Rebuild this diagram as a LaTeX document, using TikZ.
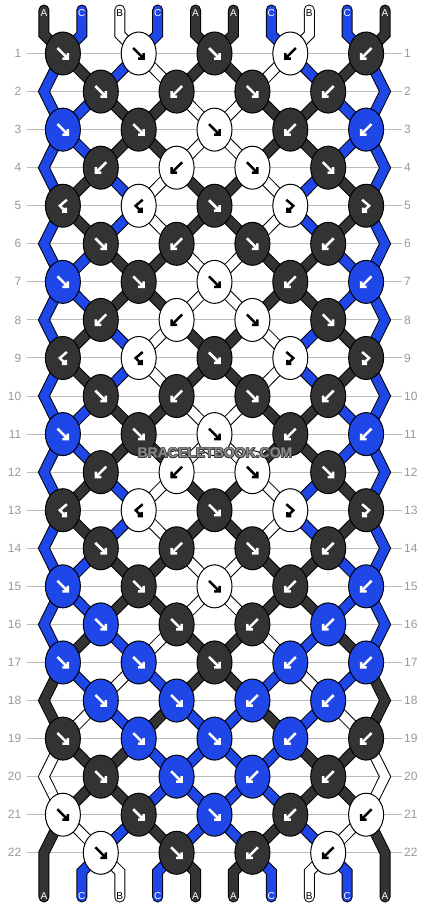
\documentclass[tikz,border=0pt]{standalone}
\usepackage{fontspec}
\setmainfont{Liberation Sans}
\usetikzlibrary{shapes.geometric}
\definecolor{colA}{HTML}{333333}
\definecolor{colB}{HTML}{FFFFFF}
\definecolor{colC}{HTML}{1F46E6}
\colorlet{txtA}{white}\colorlet{txtB}{black}\colorlet{txtC}{white}
\colorlet{arrA}{white}\colorlet{arrB}{black}\colorlet{arrC}{white}
\definecolor{rowgray}{HTML}{999999}
\definecolor{linegray}{HTML}{BBBBBB}
\definecolor{wmfill}{HTML}{8A8A8A}
\definecolor{wmedge}{HTML}{3A3A3A}
\pgfdeclarelayer{bg}\pgfdeclarelayer{sout}\pgfdeclarelayer{sin}
\pgfsetlayers{bg,sout,sin,main}
\newcommand\drawstrand[2]{%
  \begin{pgfonlayer}{sout}\draw[strandout] #2;\end{pgfonlayer}%
  \begin{pgfonlayer}{sin}\draw[strandin,draw=col#1] #2;\end{pgfonlayer}}
\newcommand\wmword{BRACELETBOOK.COM}
\newcommand\wmcopy[2]{\rlap{\hspace*{#1}\raisebox{#2}{\color{wmedge}\wmword}}}
\newcommand\wmark{\leavevmode\wmcopy{-0.7pt}{0pt}\wmcopy{0.7pt}{0pt}\wmcopy{0pt}{0.7pt}\wmcopy{0pt}{-0.7pt}\wmcopy{-0.5pt}{-0.5pt}\wmcopy{0.5pt}{0.5pt}\wmcopy{-0.5pt}{0.5pt}\wmcopy{0.5pt}{-0.5pt}{\color{wmfill}\wmword}}
\tikzset{
  knot/.style={ellipse,draw=black,line width=1pt,minimum width=35pt,minimum height=43pt,inner sep=0pt},
  strandout/.style={draw=black,line width=11pt,line join=miter,line cap=round},
  strandin/.style={line width=9pt,line join=miter,line cap=round},
  rownum/.style={text=rowgray,font=\fontsize{12}{14}\selectfont,inner sep=0pt},
  endlab/.style={font=\fontsize{10}{12}\selectfont,inner sep=0pt},
  arrw/.style={line width=2.5pt,line join=miter,line cap=butt},
  pics/af/.style={code={\draw[arrw,#1] (-5.5,-5.5) -- (5,5) (5,-0.5) -- (5,5) -- (-0.5,5);}},
  pics/ab/.style={code={\draw[arrw,#1] (5.5,-5.5) -- (-5,5) (-5,-0.5) -- (-5,5) -- (0.5,5);}},
  pics/afb/.style={code={\draw[arrw,#1] (-4,-6) -- (3,0) -- (-3,6) (-3,2) -- (-3,6) -- (1,6);}},
  pics/abf/.style={code={\draw[arrw,#1] (4,-6) -- (-3,0) -- (3,6) (3,2) -- (3,6) -- (-1,6);}},
}
\begin{document}
\begin{tikzpicture}[x=1pt,y=-1pt]
\useasboundingbox (0,0) rectangle (430,908);
% row numbers and guide lines
\foreach \rw in {1,...,22} {
  \pgfmathsetmacro\yy{53.5+(\rw-1)*38.06}
  \node[rownum,anchor=east] (rl\rw) at (21.5,\yy) {\rw};
  \node[rownum,anchor=west] (rr\rw) at (404,\yy) {\rw};
  \begin{pgfonlayer}{bg}\draw[linegray,line width=1pt] ([xshift=5.5pt]rl\rw.east) -- ([xshift=-2pt]rr\rw.west);\end{pgfonlayer}
}
% knots
\foreach \rw/\kl in {
 1/{f/A,f/B,f/A,b/B,b/A},
 2/{f/A,b/A,f/A,b/A},
 3/{f/C,f/A,f/B,b/A,b/C},
 4/{b/A,b/B,f/B,f/A},
 5/{bf/A,bf/B,f/A,fb/B,fb/A},
 6/{f/A,b/A,f/A,b/A},
 7/{f/C,f/A,f/B,b/A,b/C},
 8/{b/A,b/B,f/B,f/A},
 9/{bf/A,bf/B,f/A,fb/B,fb/A},
 10/{f/A,b/A,f/A,b/A},
 11/{f/C,f/A,f/B,b/A,b/C},
 12/{b/A,b/B,f/B,f/A},
 13/{bf/A,bf/B,f/A,fb/B,fb/A},
 14/{f/A,b/A,f/A,b/A},
 15/{f/C,f/A,f/B,b/A,b/C},
 16/{f/C,f/A,b/A,b/C},
 17/{f/C,f/C,f/A,b/C,b/C},
 18/{f/C,f/C,b/C,b/C},
 19/{f/A,f/C,f/C,b/C,b/A},
 20/{f/A,f/C,b/C,b/A},
 21/{f/B,f/A,f/C,b/A,b/B},
 22/{f/B,f/A,b/A,b/B}} {
  \pgfmathsetmacro\yy{53.5+(\rw-1)*38.06}
  \foreach \ty/\col [count=\kk] in \kl {
    \ifodd\rw\relax\pgfmathsetmacro\xx{214.5+(2*\kk-6)*37.9}\else\pgfmathsetmacro\xx{214.5+(2*\kk-5)*37.9}\fi
    \node[knot,fill=col\col] (k\rw-\kk) at (\xx,\yy) {};
    \edef\dopic{\noexpand\pic at (k\rw-\kk.center) {a\ty=arr\col};}\dopic
  }
}
% edge turning points
\foreach \rw in {2,4,...,22} {
  \pgfmathsetmacro\yy{53.5+(\rw-1)*38.06}
  \coordinate (eL\rw) at (43.95,\yy);
  \coordinate (eR\rw) at (385.05,\yy);
}
% top and bottom string ends
\foreach \p in {1,...,10} {
  \pgfmathsetmacro\xx{214.5+(\p-5.5)*37.9}
  \coordinate (t\p) at (\xx,10);
  \coordinate (tb\p) at (\xx,34.5);
  \coordinate (bb\p) at (\xx,871.8);
  \coordinate (b\p) at (\xx,897);
}
\foreach \col [count=\p] in {A,C,B,C,A,A,C,B,C,A} {
  \pgfmathtruncatemacro\io{(\p+1)/2}
  \drawstrand{\col}{(t\p) -- (tb\p) -- (k1-\io.center)}
  \node[endlab,text=txt\col] (lt\p) at ([yshift=-3pt]t\p) {\col};
  \node[endlab,text=txt\col] (lb\p) at ([yshift=1pt]b\p) {\col};
}
% strands between rows
\foreach \rw/\sl in {
 1/{C,A,C,B,A,A,B,C,A,C},
 2/{C,C,A,A,B,B,A,A,C,C},
 3/{C,C,A,A,B,B,A,A,C,C},
 4/{C,A,C,B,A,A,B,C,A,C},
 5/{C,A,C,B,A,A,B,C,A,C},
 6/{C,C,A,A,B,B,A,A,C,C},
 7/{C,C,A,A,B,B,A,A,C,C},
 8/{C,A,C,B,A,A,B,C,A,C},
 9/{C,A,C,B,A,A,B,C,A,C},
 10/{C,C,A,A,B,B,A,A,C,C},
 11/{C,C,A,A,B,B,A,A,C,C},
 12/{C,A,C,B,A,A,B,C,A,C},
 13/{C,A,C,B,A,A,B,C,A,C},
 14/{C,C,A,A,B,B,A,A,C,C},
 15/{C,C,A,A,B,B,A,A,C,C},
 16/{C,A,C,B,A,A,B,C,A,C},
 17/{A,C,B,C,A,A,C,B,C,A},
 18/{A,B,C,A,C,C,A,C,B,A},
 19/{B,A,A,C,C,C,C,A,A,B},
 20/{B,A,A,C,C,C,C,A,A,B},
 21/{A,B,C,A,C,C,A,C,B,A},
 22/{A,C,B,C,A,A,C,B,C,A}} {
  \pgfmathtruncatemacro\rn{\rw+1}
  \pgfmathtruncatemacro\rp{\rw-1}
  \foreach \col [count=\p] in \sl {
    \pgfmathtruncatemacro\io{(\p+1)/2}
    \pgfmathtruncatemacro\ie{\p/2}
    \ifnum\rw=22\relax
      \ifnum\p=1\relax \drawstrand{\col}{(k21-1.center) -- (eL22) -- (b1)}\fi
      \ifnum\p=10\relax \drawstrand{\col}{(k21-5.center) -- (eR22) -- (b10)}\fi
      \ifnum\p>1\relax\ifnum\p<10\relax \drawstrand{\col}{(k22-\ie.center) -- (bb\p) -- (b\p)}\fi\fi
    \else
      \ifodd\rw\relax
        \ifnum\p>1\relax\ifnum\p<10\relax \drawstrand{\col}{(k\rw-\io.center) -- (k\rn-\ie.center)}\fi\fi
      \else
        \ifnum\p=1\relax \drawstrand{\col}{(k\rp-1.center) -- (eL\rw) -- (k\rn-1.center)}\fi
        \ifnum\p=10\relax \drawstrand{\col}{(k\rp-5.center) -- (eR\rw) -- (k\rn-5.center)}\fi
        \ifnum\p>1\relax\ifnum\p<10\relax \drawstrand{\col}{(k\rw-\ie.center) -- (k\rn-\io.center)}\fi\fi
      \fi
    \fi
  }
}
% watermark
\node[font=\bfseries\fontsize{14}{16}\selectfont,inner sep=0pt] (wm) at (215,453) {\wmark};
\end{tikzpicture}
\end{document}
